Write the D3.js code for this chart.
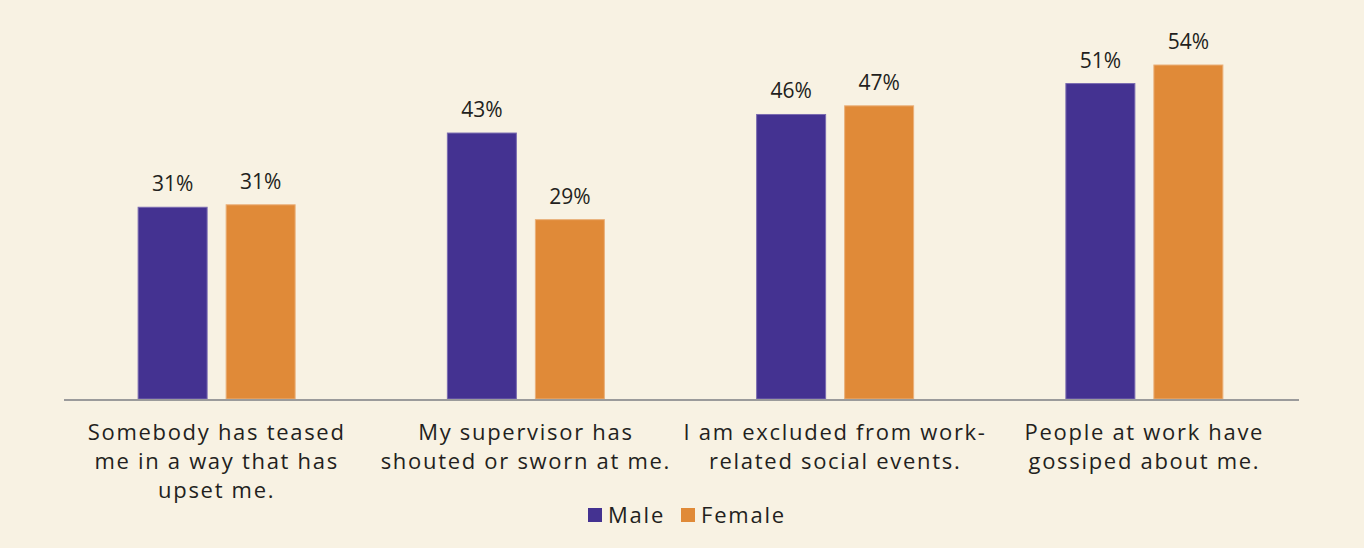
<!DOCTYPE html>
<html lang="en">
<head>
<meta charset="utf-8">
<title>Workplace experiences by gender</title>
<script src="https://cdn.jsdelivr.net/npm/d3@7"></script>
<style>
body { margin: 0; background: #f8f2e3; }
text { font-family: "Open Sans", sans-serif; fill: #231f20; }
.cat { font-size: 22px; letter-spacing: 1.7px; }
.val { font-size: 21px; }
.leg { font-size: 22px; letter-spacing: 1.8px; }
</style>
</head>
<body>
<script>
var categories = [
  ["Somebody has teased", "me in a way that has", "upset me."],
  ["My supervisor has", "shouted or sworn at me."],
  ["I am excluded from work-", "related social events."],
  ["People at work have", "gossiped about me."]
];
var seriesNames = ["Male", "Female"];
var male = [31, 43, 46, 51];
var female = [31.4, 29, 47.4, 54];
var colors = ["#443291", "#e08a38"];

var w = 1364, h = 548;
var svg = d3.select("body").append("svg")
  .attr("width", w).attr("height", h)
  .style("background-color", "#f8f2e3");

var x0 = d3.scaleBand().domain(d3.range(categories.length)).range([65, 1302]);
var x1 = d3.scaleBand().domain(seriesNames).range([0, 157]).paddingInner(0.216);
var y = d3.scaleLinear().domain([0, 54]).range([399, 65]);

var groupOffset = (x0.bandwidth() - 157) / 2 - 3;

var groups = svg.selectAll(".grp")
  .data(categories)
  .enter().append("g")
  .attr("class", "grp")
  .attr("transform", function(d, i){ return "translate(" + (x0(i) + groupOffset) + ",0)"; });

groups.each(function(d, i){
  var g = d3.select(this);
  var vals = [male[i], female[i]];
  g.selectAll("rect").data(vals).enter().append("rect")
    .attr("x", function(v, j){ return x1(seriesNames[j]); })
    .attr("y", function(v){ return y(v); })
    .attr("width", x1.bandwidth())
    .attr("height", function(v){ return y(0) - y(v); })
    .attr("fill", function(v, j){ return colors[j]; })
    .attr("stroke", function(v, j){ return j == 0 ? "#7a6bb0" : "#eab07a"; })
    .attr("stroke-width", 1);
  g.selectAll("text.val").data(vals).enter().append("text")
    .attr("class", "val")
    .attr("x", function(v, j){ return x1(seriesNames[j]) + x1.bandwidth() / 2; })
    .attr("y", function(v){ return y(v) - 16; })
    .attr("text-anchor", "middle")
    .text(function(v){ return Math.round(v) + "%"; });
});

// axis line
svg.append("line")
  .attr("x1", 64).attr("x2", 1299)
  .attr("y1", y(0) + 1).attr("y2", y(0) + 1)
  .attr("stroke", "#9b9b9b").attr("stroke-width", 2);

// category labels
categories.forEach(function(lines, i){
  var cx = x0(i) + groupOffset + 157 / 2;
  var t = svg.append("text").attr("class", "cat")
    .attr("text-anchor", "middle")
    .attr("x", cx).attr("y", 440);
  lines.forEach(function(l, k){
    t.append("tspan").attr("x", cx).attr("dy", k == 0 ? 0 : 29).text(l);
  });
});

// legend
var leg = svg.append("g").attr("transform", "translate(588,508)");
var lx = [0, 93];
seriesNames.forEach(function(s, i){
  leg.append("rect").attr("x", lx[i]).attr("y", 0).attr("width", 14).attr("height", 14).attr("fill", colors[i]);
  leg.append("text").attr("class", "leg").attr("x", lx[i] + 20).attr("y", 15).text(s);
});
</script>
</body>
</html>
